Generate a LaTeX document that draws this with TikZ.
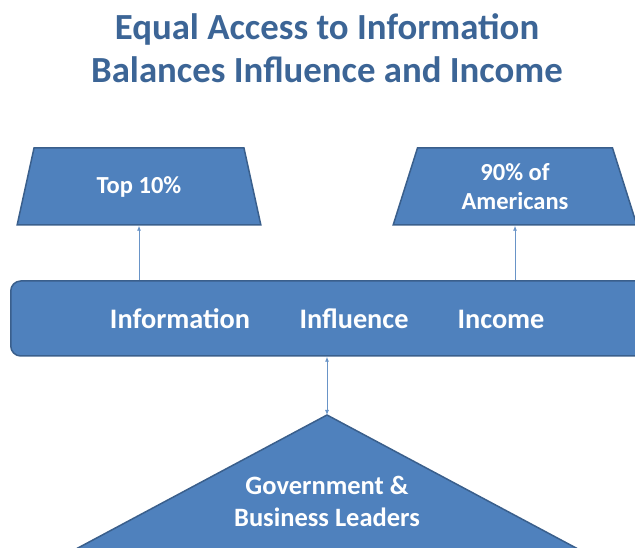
\documentclass[tikz,border=0pt]{standalone}
\usepackage{fontspec}
\setmainfont{Carlito}
\usetikzlibrary{shapes.geometric,arrows.meta}
\definecolor{boxblue}{HTML}{4F81BD}
\definecolor{edgeblue}{HTML}{3A5F8C}
\definecolor{titleblue}{HTML}{3C6596}

\begin{document}
\begin{tikzpicture}[x=1pt, y=1pt,
    shapebox/.style={fill=boxblue, draw=edgeblue, line width=1.5pt},
    whitetext/.style={text=white, align=center},
    groupbox/.style={shapebox, whitetext, trapezium, trapezium stretches=true,
        trapezium angle=75, minimum width=244, minimum height=77,
        font=\fontsize{24.5}{29}\selectfont\bfseries},
    linkline/.style={draw=boxblue!85, line width=0.8pt},
    linktip/.tip={Latex[length=5pt,width=4pt]}]

    % Fix the page size
    \clip (0,0) rectangle (635,548);

    % Title
    \node[text=titleblue, align=center, font=\fontsize{36.8}{43}\selectfont\bfseries] (title) at (327,500)
        {Equal Access to Information\\Balances Influence and Income};

    % Draw the two groups at the top
    \node[groupbox] (top) at (139,361.5) {Top 10\%};
    \node[groupbox] (rest) at (515,361.5) {90\% of\\Americans};

    % Draw the long bar and its three words
    \node[shapebox, rounded corners=10, minimum width=650, minimum height=75, anchor=west] (bar) at (10,229.5) {};
    \node[whitetext, font=\fontsize{28.3}{34}\selectfont\bfseries] (information) at (180,229) {Information};
    \node[whitetext, font=\fontsize{28.3}{34}\selectfont\bfseries] (influence) at (354,229) {Influence};
    \node[whitetext, font=\fontsize{28.3}{34}\selectfont\bfseries] (income) at (501,229) {Income};

    % Draw the triangle at the bottom
    \coordinate (apex) at (327,133);
    \draw[shapebox] (apex) -- (3,-40) -- (651,-40) -- cycle;
    \node[whitetext, font=\fontsize{26.5}{32}\selectfont\bfseries] (leaders) at (327,47)
        {Government \&\\Business Leaders};

    % Arrows between the bar and the shapes
    \draw[linkline, -linktip] (bar.north -| top.south) -- (top.south);
    \draw[linkline, -linktip] (bar.north -| rest.south) -- (rest.south);
    \draw[linkline, linktip-linktip] (bar.south -| apex) -- (apex);
\end{tikzpicture}
\end{document}
